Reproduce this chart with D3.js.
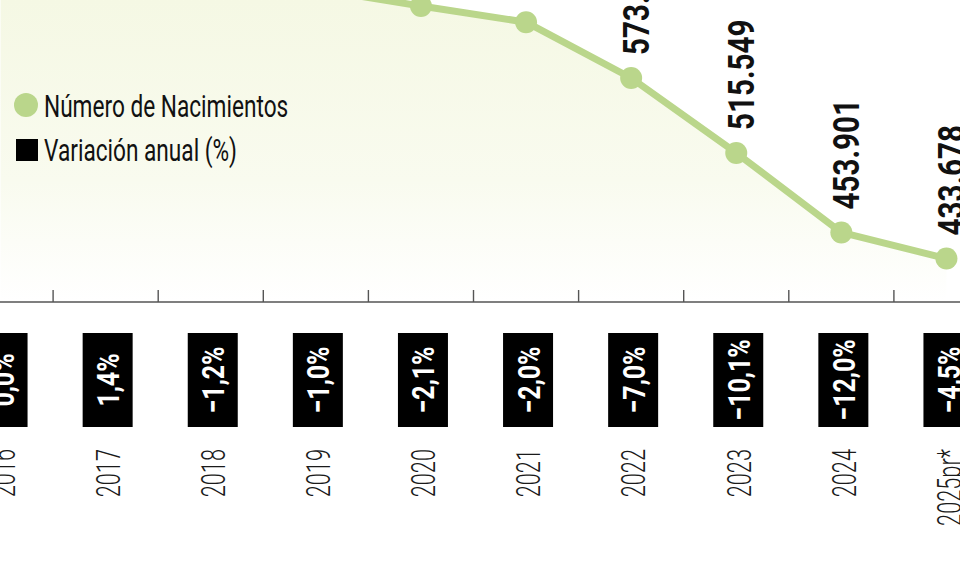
<!DOCTYPE html>
<meta charset="utf-8">
<style>
  body { margin: 0; background: #fff; }
  svg { display: block; }
  text { font-family: Roboto, "Open Sans", "DejaVu Sans", sans-serif; }
</style>
<body>
<script src="https://cdn.jsdelivr.net/npm/d3@7"></script>
<script>
  'use strict';

  // nacimientos por año (DANE), 2025 preliminar
  const years = ["2016", "2017", "2018", "2019", "2020", "2021", "2022", "2023", "2024", "2025pr*"];
  const births = [647521, 656704, 649115, 642660, 629402, 616914, 573625, 515549, 453901, 433678];
  const change = [0.0, 1.4, -1.2, -1.0, -2.1, -2.0, -7.0, -10.1, -12.0, -4.5];
  const legendLabels = ["Número de Nacimientos", "Variación anual (%)"];

  const width = 960, height = 567,
        axisY = 302,
        green = "#bad68b";

  const es = d3.formatLocale({decimal: ",", thousands: ".", grouping: [3], currency: ["$", ""]});
  const fmtNum = es.format(",d"),
        fmtPct = es.format(".1f");

  const data = years.map((y, i) => ({year: y, value: births[i], pct: change[i]}));

  const x = d3.scaleBand().domain(years).range([-52, 999]);
  const y = d3.scaleLinear().domain([400000, 700000]).range([axisY, -85]);
  const cx = (d) => x(d.year) + x.bandwidth() / 2;

  const svg = d3.select("body").append("svg")
        .attr("width", width)
        .attr("height", height);

  const defs = svg.append("defs");
  const grad = defs.append("linearGradient")
        .attr("id", "areaFill")
        .attr("gradientUnits", "userSpaceOnUse")
        .attr("x1", 0).attr("y1", 0).attr("x2", 0).attr("y2", axisY);
  grad.append("stop").attr("offset", 0).attr("stop-color", "#f5f8e4");
  grad.append("stop").attr("offset", 0.6).attr("stop-color", "#f9fbef");
  grad.append("stop").attr("offset", 1).attr("stop-color", "#ffffff");

  // squeeze text along its direction so it reads like a condensed face
  function condense(sel, factor) {
    sel.each(function() {
      const n = this.getComputedTextLength();
      d3.select(this).attr("textLength", n * factor).attr("lengthAdjust", "spacingAndGlyphs");
    });
  }

  // area + line
  svg.append("path")
    .datum(data)
    .attr("fill", "url(#areaFill)")
    .attr("d", d3.area().x(cx).y0(axisY).y1((d) => y(d.value)));

  svg.append("path")
    .datum(data)
    .attr("fill", "none")
    .attr("stroke", green)
    .attr("stroke-width", 7)
    .attr("stroke-linejoin", "round")
    .attr("d", d3.line().x(cx).y((d) => y(d.value)));

  svg.selectAll(".dot")
    .data(data)
    .enter().append("circle")
    .attr("class", "dot")
    .attr("cx", cx)
    .attr("cy", (d) => y(d.value))
    .attr("r", 11)
    .attr("fill", green);

  const vals = svg.selectAll(".val")
    .data(data)
    .enter().append("text")
    .attr("class", "val")
    .attr("transform", (d) => `translate(${cx(d) + 18},${y(d.value) - 23}) rotate(-90)`)
    .attr("font-size", 37)
    .attr("font-weight", 700)
    .attr("fill", "#111")
    .text((d) => fmtNum(d.value));
  condense(vals, 0.8);

  // axis
  svg.append("line")
    .attr("x1", 0).attr("x2", width)
    .attr("y1", axisY).attr("y2", axisY)
    .attr("stroke", "#555")
    .attr("stroke-width", 1.6);

  svg.selectAll(".tick")
    .data(years.slice(1))
    .enter().append("line")
    .attr("class", "tick")
    .attr("x1", (d) => x(d)).attr("x2", (d) => x(d))
    .attr("y1", axisY - 12).attr("y2", axisY)
    .attr("stroke", "#555")
    .attr("stroke-width", 1.4);

  // variación anual boxes
  const box = svg.selectAll(".box")
    .data(data)
    .enter().append("g")
    .attr("class", "box")
    .attr("transform", (d) => `translate(${cx(d) + 2},380)`);

  box.append("rect")
    .attr("x", -25).attr("y", -47)
    .attr("width", 50).attr("height", 94)
    .attr("fill", "#000");

  const pctText = box.append("text")
    .attr("transform", "rotate(-90)")
    .attr("text-anchor", "middle")
    .attr("dy", "0.36em")
    .attr("font-size", 32)
    .attr("font-weight", 700)
    .attr("fill", "#fff")
    .text((d) => fmtPct(d.pct) + "%");
  condense(pctText, 0.78);

  // years
  const yearText = svg.selectAll(".year")
    .data(data)
    .enter().append("text")
    .attr("class", "year")
    .attr("transform", (d) => `translate(${cx(d) + 2},449) rotate(-90)`)
    .attr("text-anchor", "end")
    .attr("dy", "0.36em")
    .attr("font-size", 34)
    .attr("font-weight", 300)
    .attr("fill", "#1a1a1a")
    .text((d) => d.year);
  condense(yearText, 0.64);

  // legend
  const legend = svg.append("g");
  legend.append("circle").attr("cx", 26).attr("cy", 105).attr("r", 12).attr("fill", green);
  legend.append("rect").attr("x", 16).attr("y", 139).attr("width", 22).attr("height", 22).attr("fill", "#000");
  const legText = legend.selectAll("text")
    .data(legendLabels)
    .enter().append("text")
    .attr("x", 44)
    .attr("y", (d, i) => 117 + i * 44)
    .attr("font-size", 31)
    .attr("font-weight", 400)
    .attr("fill", "#111")
    .text((d) => d);
  condense(legText, 0.73);
</script>
